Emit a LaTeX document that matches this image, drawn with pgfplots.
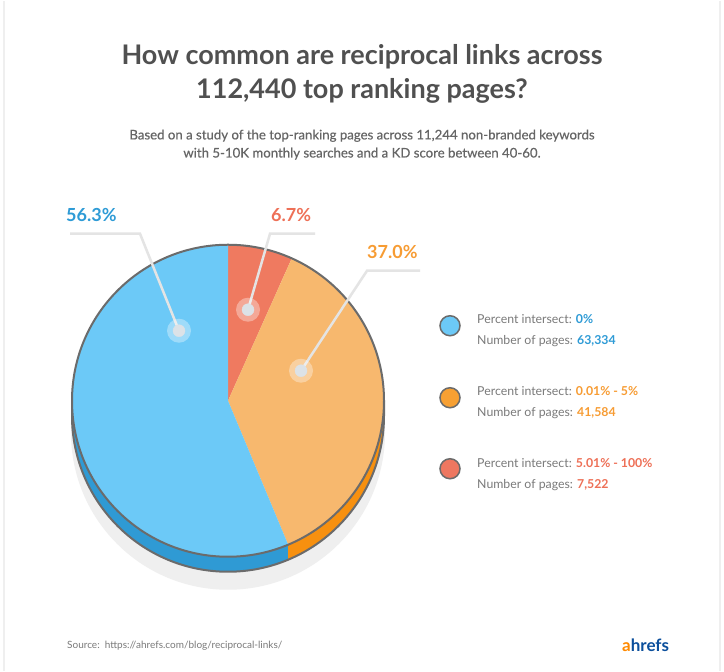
\documentclass[border=0pt]{standalone}
\usepackage{pgfplots}
\pgfplotsset{compat=1.18}
\usepackage{fontspec}
\setmainfont{Lato}
\newfontfamily\latosb[FakeBold=0.5]{Lato}
\definecolor{titleGray}{HTML}{505050}
\definecolor{subGray}{HTML}{666666}
\definecolor{legGray}{HTML}{7A7A7A}
\definecolor{blueTop}{HTML}{6CC9F7}
\definecolor{blueSide}{HTML}{2F9AD4}
\definecolor{orangeTop}{HTML}{F7B86E}
\definecolor{orangeSide}{HTML}{F7900F}
\definecolor{redTop}{HTML}{EF7A60}
\definecolor{blueTxt}{HTML}{2E9BD6}
\definecolor{orangeTxt}{HTML}{F79C33}
\definecolor{redTxt}{HTML}{EE7057}
\definecolor{legBlue}{HTML}{6CC9F7}
\definecolor{legOrange}{HTML}{F7A033}
\definecolor{legRed}{HTML}{EE7760}
\definecolor{outline}{HTML}{6B6B6B}
\definecolor{leader}{HTML}{E4E4E4}
\definecolor{dotGray}{HTML}{DCE2E7}
\definecolor{shadow}{HTML}{EFEFEF}
\definecolor{ahOrange}{HTML}{FF8A00}
\definecolor{ahBlue}{HTML}{0B4F9C}
\def\vZero{56.3}
\def\vLow{37.0}
\def\vHigh{6.7}
\begin{document}
\begin{tikzpicture}
\begin{axis}[width=724bp,height=670bp,scale only axis,
  xmin=0,xmax=724,ymin=0,ymax=670,axis lines=none,clip=false]
\pgfmathsetmacro{\aRed}{90-\vHigh*3.6}
\pgfmathsetmacro{\aOra}{\aRed-\vLow*3.6+360}
% background and frame
\fill[white] (axis cs:0,0) rectangle (axis cs:724,670);
\draw[shadow, line width=1.5bp] (axis cs:4,0) -- (axis cs:4,670);
\draw[shadow, line width=1.5bp] (axis cs:720,0) -- (axis cs:720,670);
% shadow
\fill[shadow] (axis cs:228,238) circle[radius=157bp];
% side (extrusion)
\fill[blueSide] (axis cs:228,270) ++(180:156bp) arc[start angle=180,end angle=\aOra,radius=156bp]
  -- ++(0,-15bp) arc[start angle=\aOra,end angle=180,radius=156bp] -- cycle;
\fill[orangeSide] (axis cs:228,270) ++(\aOra:156bp) arc[start angle=\aOra,end angle=360,radius=156bp]
  -- ++(0,-15bp) arc[start angle=360,end angle=\aOra,radius=156bp] -- cycle;
\draw[outline, line width=2bp] (axis cs:228,270) ++(180:156bp) -- ++(0,-15bp)
  arc[start angle=180,end angle=360,radius=156bp] -- ++(0,15bp);
% top face
\fill[redTop] (axis cs:228,270) -- ++(\aRed:156bp) arc[start angle=\aRed,end angle=90,radius=156bp] -- cycle;
\fill[orangeTop] (axis cs:228,270) -- ++(\aOra-360:156bp) arc[start angle=\aOra-360,end angle=\aRed,radius=156bp] -- cycle;
\fill[blueTop] (axis cs:228,270) -- ++(90:156bp) arc[start angle=90,end angle=\aOra,radius=156bp] -- cycle;
\draw[outline, line width=2bp] (axis cs:228,270) circle[radius=156bp];
% leader lines
\addplot[leader, line width=2.5bp] coordinates {(70,437) (140,437) (179,340)};
\addplot[leader, line width=2.5bp] coordinates {(315,437) (270,437) (248,361)};
\addplot[leader, line width=2.5bp] coordinates {(420,400) (367,400) (301,300)};
\addplot[only marks, mark=*, mark size=12bp, color=white, opacity=0.35,
  mark options={draw opacity=0, fill=white, fill opacity=0.35}]
  coordinates {(179,340) (248,361) (301,300)};
\addplot[only marks, mark=*, mark size=6bp, color=dotGray,
  mark options={draw=dotGray, fill=dotGray}]
  coordinates {(179,340) (248,361) (301,300)};
% percent labels
\node[anchor=west, inner sep=0pt, text=blueTxt, font=\fontsize{18bp}{20bp}\selectfont\bfseries] at (axis cs:66,456) {56.3\%};
\node[anchor=west, inner sep=0pt, text=redTxt, font=\fontsize{18bp}{20bp}\selectfont\bfseries] at (axis cs:271,456) {6.7\%};
\node[anchor=west, inner sep=0pt, text=orangeTxt, font=\fontsize{18bp}{20bp}\selectfont\bfseries] at (axis cs:367,419) {37.0\%};
% legend markers
\addplot[only marks, mark=*, mark size=10bp, color=outline, mark options={draw=outline, line width=1.5bp, fill=legBlue}] coordinates {(450,345)};
\addplot[only marks, mark=*, mark size=10bp, color=outline, mark options={draw=outline, line width=1.5bp, fill=legOrange}] coordinates {(450,273)};
\addplot[only marks, mark=*, mark size=10bp, color=outline, mark options={draw=outline, line width=1.5bp, fill=legRed}] coordinates {(450,202)};
% legend text
\begin{scope}[every node/.style={anchor=base west, inner sep=0pt, font=\fontsize{12.3bp}{14bp}\selectfont, text=legGray}]
\node at (axis cs:477,347) {Percent intersect: \textcolor{blueTxt}{\bfseries 0\%}};
\node at (axis cs:477,326) {Number of pages: \textcolor{blueTxt}{\bfseries 63,334}};
\node at (axis cs:477,275) {Percent intersect: \textcolor{orangeTxt}{\bfseries 0.01\% - 5\%}};
\node at (axis cs:477,254) {Number of pages: \textcolor{orangeTxt}{\bfseries 41,584}};
\node at (axis cs:477,203) {Percent intersect: \textcolor{redTxt}{\bfseries 5.01\% - 100\%}};
\node at (axis cs:477,182) {Number of pages: \textcolor{redTxt}{\bfseries 7,522}};
\end{scope}
% titles
\node[anchor=center, inner sep=0pt, text=titleGray, font=\fontsize{27bp}{30bp}\selectfont\bfseries] at (axis cs:362,614) {How common are reciprocal links across};
\node[anchor=center, inner sep=0pt, text=titleGray, font=\fontsize{27bp}{30bp}\selectfont\bfseries] at (axis cs:362,580) {112,440 top ranking pages?};
\node[anchor=center, inner sep=0pt, text=subGray, font=\fontsize{13.2bp}{16bp}\selectfont\latosb] at (axis cs:362,535) {Based on a study of the top-ranking pages across 11,244 non-branded keywords};
\node[anchor=center, inner sep=0pt, text=subGray, font=\fontsize{13.2bp}{16bp}\selectfont\latosb] at (axis cs:362,517) {with 5-10K monthly searches and a KD score between 40-60.};
% footer
\node[anchor=west, inner sep=0pt, text=legGray, font=\fontsize{10bp}{12bp}\selectfont] at (axis cs:67,25) {Source:\ \ https://ahrefs.com/blog/reciprocal-links/};
\node[anchor=west, inner sep=0pt, font=\fontsize{17bp}{20bp}\selectfont\bfseries] at (axis cs:622,25) {\textcolor{ahOrange}{a}\textcolor{ahBlue}{hrefs}};
\end{axis}
\end{tikzpicture}
\end{document}
